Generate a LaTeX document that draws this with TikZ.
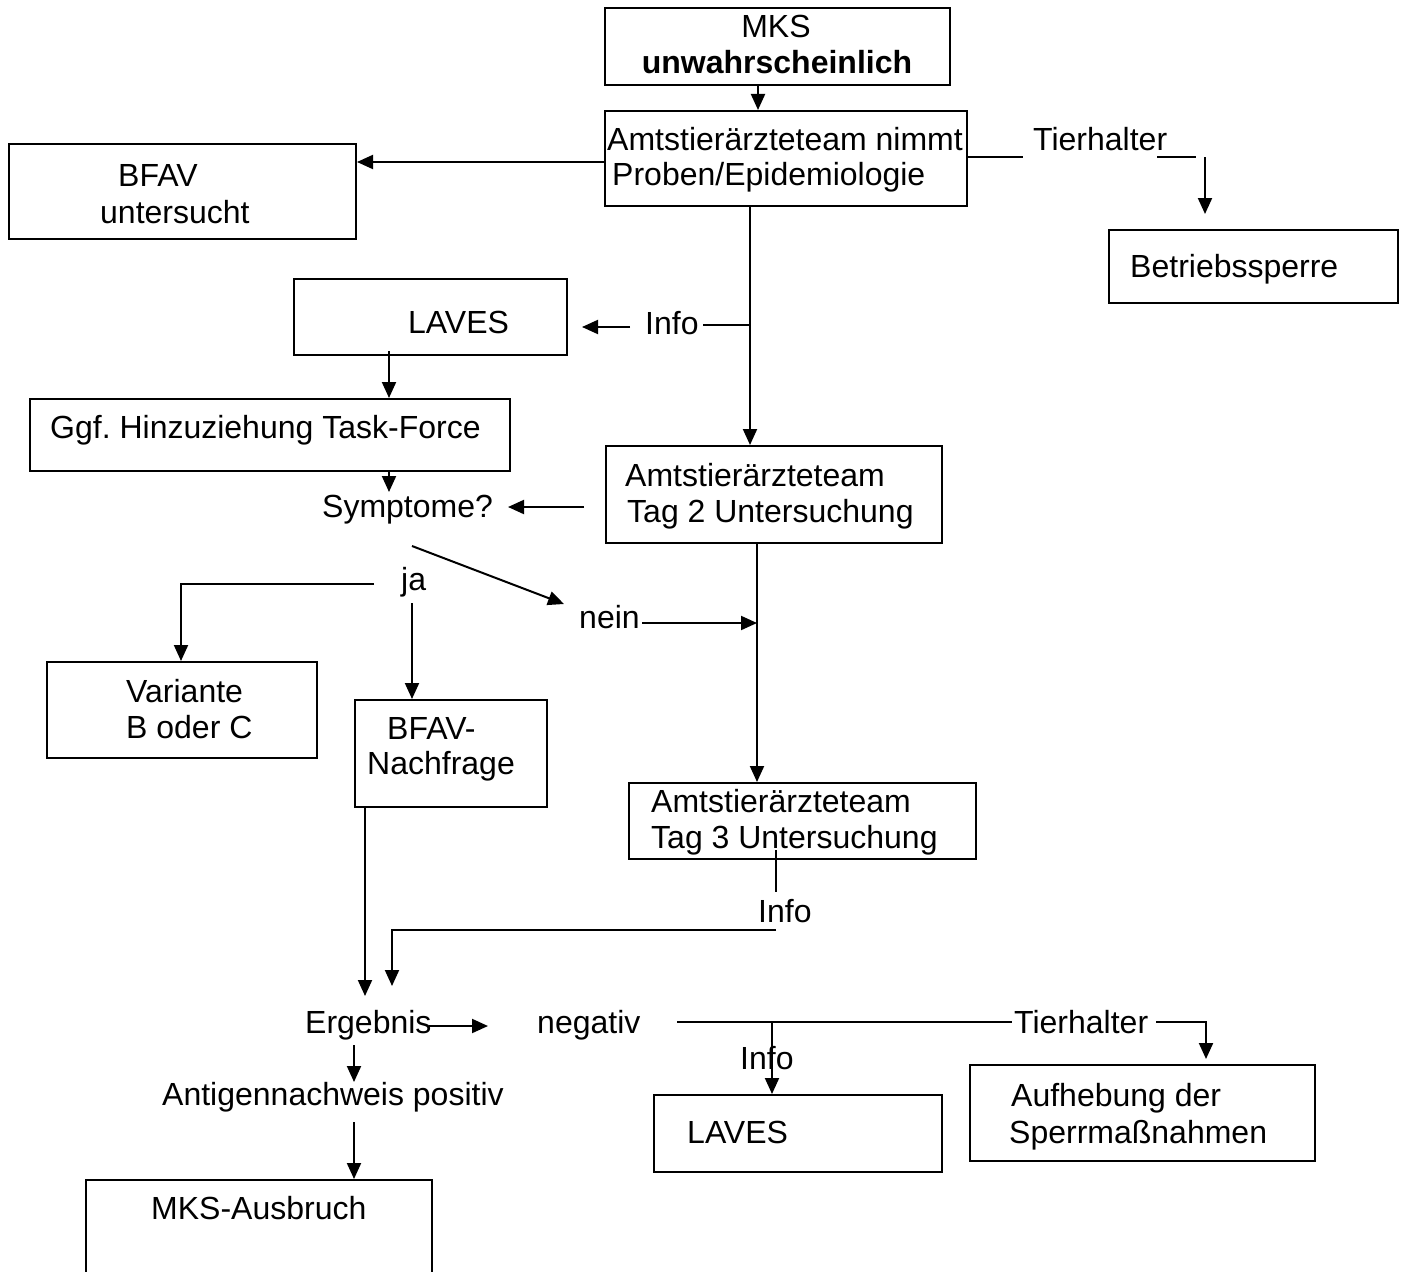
\documentclass[tikz,border=0pt]{standalone}
\usepackage{fontspec}
\setmainfont{Liberation Sans}
\usetikzlibrary{arrows.meta}
\frenchspacing
\begin{document}
\begin{tikzpicture}[x=1pt,y=-1pt,
  box/.style={draw, line width=2pt, inner sep=0pt, anchor=north west},
  lbl/.style={inner sep=0pt, anchor=base west, font=\fontsize{32}{37}\selectfont},
  link/.style={line width=2pt},
  arr/.style={line width=2pt, -{Triangle[length=16pt,width=14pt]}}]
\useasboundingbox (0,0) rectangle (1404,1271);
\clip (0,0) rectangle (1404,1271);

% ---------- boxes ----------
\node[box, minimum width=345pt, minimum height=77pt] (mks)    at (604,7) {};
\node[box, minimum width=362pt, minimum height=95pt] (am1)    at (604,110) {};
\node[box, minimum width=347pt, minimum height=95pt] (bfav)   at (8,143) {};
\node[box, minimum width=289pt, minimum height=73pt] (betr)   at (1108,229) {};
\node[box, minimum width=273pt, minimum height=76pt] (laves1) at (293,278) {};
\node[box, minimum width=480pt, minimum height=72pt] (ggf)    at (29,398) {};
\node[box, minimum width=336pt, minimum height=97pt] (am2)    at (605,445) {};
\node[box, minimum width=270pt, minimum height=96pt] (var)    at (46,661) {};
\node[box, minimum width=192pt, minimum height=107pt] (bfn)   at (354,699) {};
\node[box, minimum width=347pt, minimum height=76pt] (am3)    at (628,782) {};
\node[box, minimum width=288pt, minimum height=77pt] (laves2) at (653,1094) {};
\node[box, minimum width=345pt, minimum height=96pt] (aufh)   at (969,1064) {};
\node[box, minimum width=346pt, minimum height=130pt] (ausb)  at (85,1179) {};

% ---------- texts ----------
\node[lbl, anchor=base] (mksA) at (776,38) {MKS};
\node[lbl, anchor=base, font=\fontsize{32}{37}\selectfont\bfseries] (mksB) at (777,74) {unwahrscheinlich};
\node[lbl] (am1A) at (607,150) {Amtstierärzteteam nimmt};
\node[lbl] (am1B) at (612,185) {Proben/Epidemiologie};
\node[lbl] (th1) at (1033,150) {Tierhalter};
\node[lbl] (betrA) at (1130,277) {Betriebssperre};
\node[lbl] (bfavA) at (118,186) {BFAV};
\node[lbl] (bfavB) at (100,223) {untersucht};
\node[lbl] (info1) at (645,334) {Info};
\node[lbl] (laves1A) at (408,333) {LAVES};
\node[lbl] (ggfA) at (50,438) {Ggf. Hinzuziehung Task-Force};
\node[lbl] (symp) at (322,517) {Symptome?};
\node[lbl] (am2A) at (625,486) {Amtstierärzteteam};
\node[lbl] (am2B) at (627,522) {Tag 2 Untersuchung};
\node[lbl] (ja) at (401,590) {ja};
\node[lbl] (nein) at (579,628) {nein};
\node[lbl] (varA) at (126,702) {Variante};
\node[lbl] (varB) at (126,738) {B oder C};
\node[lbl] (bfnA) at (387,739) {BFAV-};
\node[lbl] (bfnB) at (367,774) {Nachfrage};
\node[lbl] (am3A) at (651,812) {Amtstierärzteteam};
\node[lbl] (am3B) at (651,848) {Tag 3 Untersuchung};
\node[lbl] (info2) at (758,922) {Info};
\node[lbl] (erg) at (305,1033) {Ergebnis};
\node[lbl] (neg) at (537,1033) {negativ};
\node[lbl] (th2) at (1014,1033) {Tierhalter};
\node[lbl] (info3) at (740,1069) {Info};
\node[lbl] (antig) at (162,1105) {Antigennachweis positiv};
\node[lbl] (laves2A) at (687,1143) {LAVES};
\node[lbl] (aufhA) at (1011,1106) {Aufhebung der};
\node[lbl] (aufhB) at (1009,1143) {Sperrmaßnahmen};
\node[lbl] (ausbA) at (151,1219) {MKS-Ausbruch};

% ---------- connector points ----------
\coordinate (xA) at (758,0);      % MKS -> first team
\coordinate (yB) at (0,162);      % -> BFAV
\coordinate (t1a) at (1023,157);
\coordinate (t1b) at (1157,157);
\coordinate (t1c) at (1196,157);
\coordinate (t1d) at (1205,157);
\coordinate (t1e) at (1205,214);
\coordinate (xM) at (750,0);      % main vertical
\coordinate (i1a) at (750,325);
\coordinate (i1b) at (703,325);
\coordinate (i1c) at (630,327);
\coordinate (i1d) at (582,327);
\coordinate (xL) at (389,0);      % LAVES -> Task-Force -> Symptome
\coordinate (sy) at (389,492);
\coordinate (s2a) at (584,507);
\coordinate (s2b) at (508,507);
\coordinate (dA) at (412,546);
\coordinate (dB) at (564,604);
\coordinate (nA) at (642,623);
\coordinate (xN) at (757,0);      % day 2 -> day 3
\coordinate (jaA) at (374,584);
\coordinate (xV) at (181,0);
\coordinate (jbA) at (412,603);
\coordinate (xR) at (365,0);
\coordinate (eA) at (365,996);
\coordinate (i2a) at (776,850);
\coordinate (i2b) at (776,892);
\coordinate (i2c) at (776,930);
\coordinate (eB) at (392,986);
\coordinate (gA) at (429,1026);
\coordinate (gB) at (488,1026);
\coordinate (aA) at (354,1045);
\coordinate (aB) at (354,1082);
\coordinate (aC) at (354,1122);
\coordinate (nL) at (677,1022);
\coordinate (nR) at (1012,1022);
\coordinate (xI) at (772,0);
\coordinate (t2a) at (1156,1022);
\coordinate (t2b) at (1206,1059);

% ---------- connectors ----------
\draw[arr] (mks.south -| xA) -- (am1.north -| xA);
\draw[arr] (am1.west |- yB) -- (bfav.east |- yB);
\draw[link] (am1.east |- t1a) -- (t1a);
\draw[link] (t1b) -- (t1c);
\draw[arr] (t1d) -- (t1e);
\draw[arr] (am1.south -| xM) -- (am2.north -| xM);
\draw[link] (i1a) -- (i1b);
\draw[arr] (i1c) -- (i1d);
\draw[arr] ([yshift=5pt]laves1.south -| xL) -- (ggf.north -| xL);
\draw[arr] (ggf.south -| xL) -- (sy);
\draw[arr] (s2a) -- (s2b);
\draw[arr] (dA) -- (dB);
\draw[arr] (nA) -- (nA -| xN);
\draw[arr] (am2.south -| xN) -- (am3.north -| xN);
\draw[arr] (jaA) -| (var.north -| xV);
\draw[arr] (jbA) -- (bfn.north -| jbA);
\draw[arr] (bfn.south -| xR) -- (eA);
\draw[link] (i2a) -- (i2b);
\draw[arr] (i2c) -| (eB);
\draw[arr] (gA) -- (gB);
\draw[arr] (aA) -- (aB);
\draw[arr] (aC) -- (ausb.north -| aC);
\draw[link] (nL) -- (nR);
\draw[arr] (nL -| xI) -- (laves2.north -| xI);
\draw[arr] (t2a) -| (t2b);
\end{tikzpicture}
\end{document}
